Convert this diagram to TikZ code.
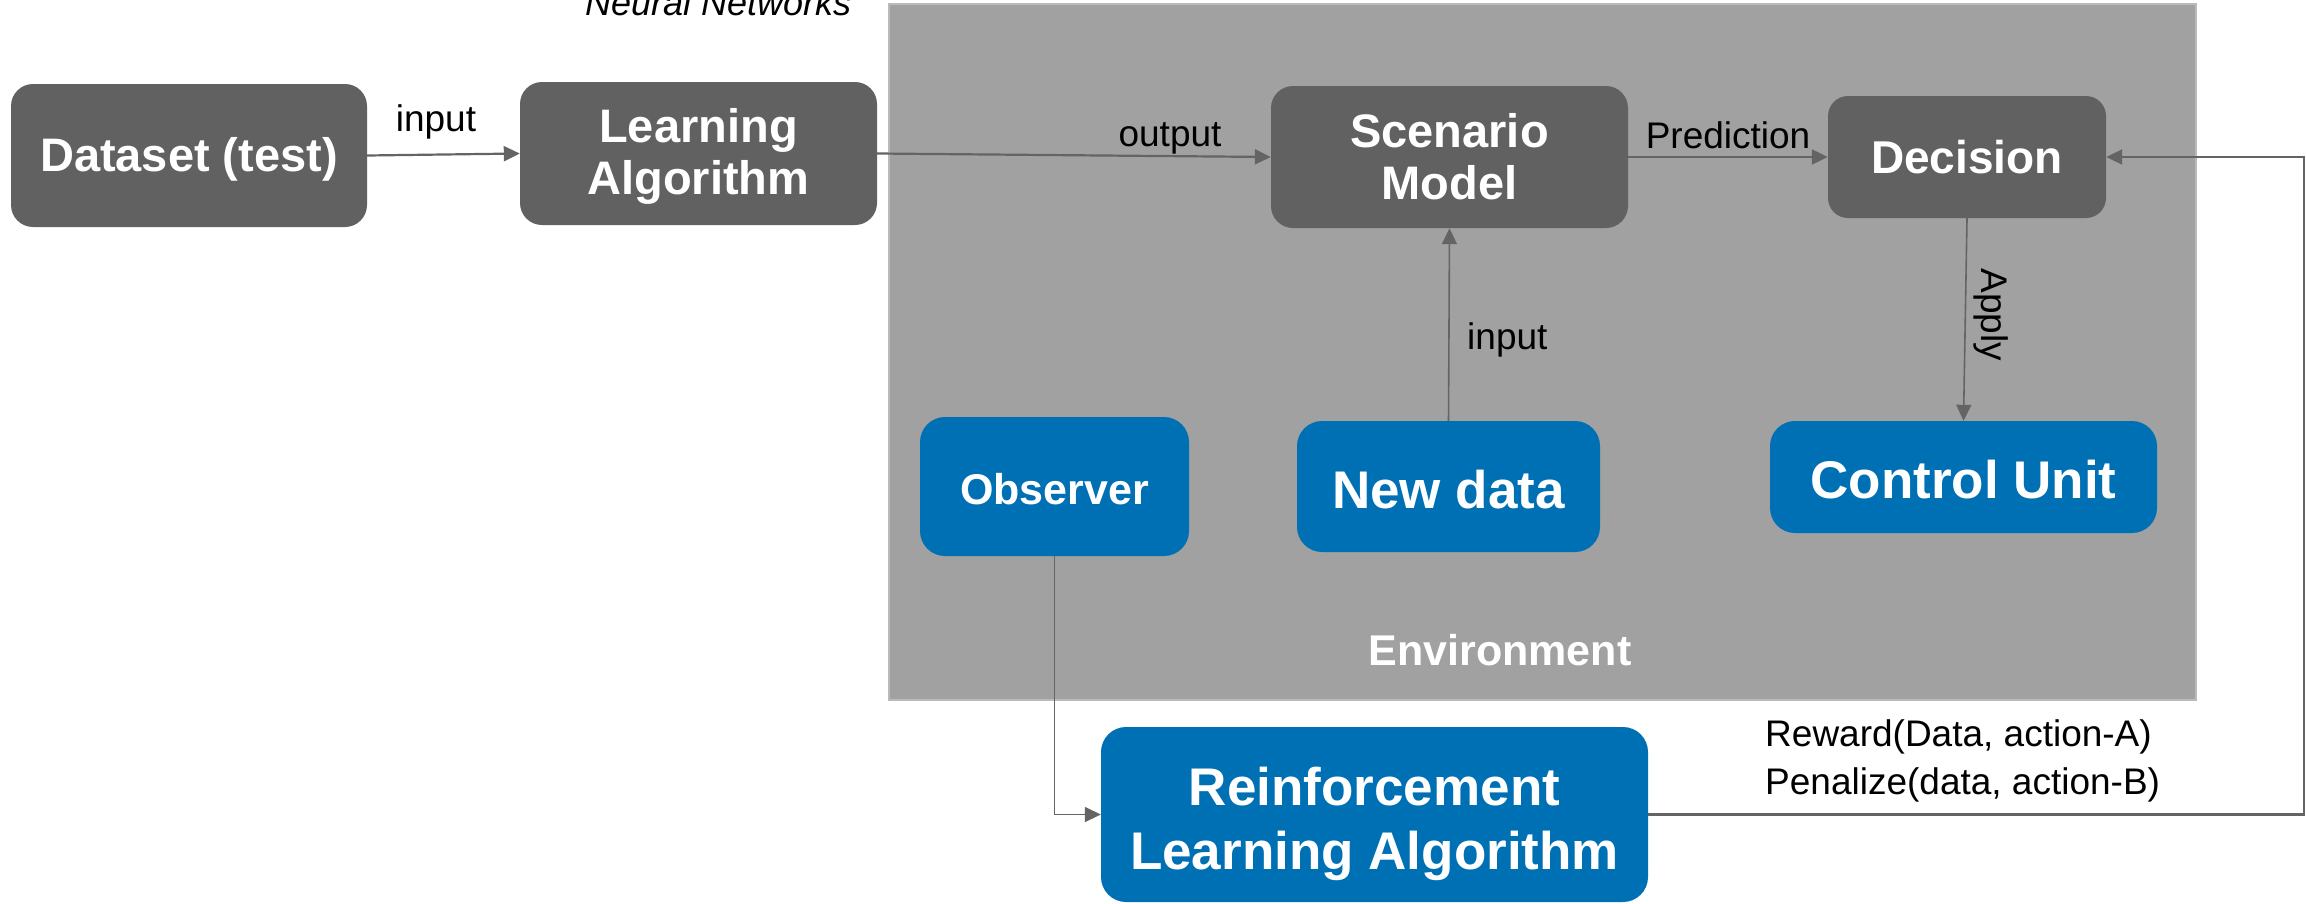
\documentclass[tikz,border=0pt]{standalone}
\usepackage{fontspec}
\setmainfont{Liberation Sans}
\usetikzlibrary{arrows.meta}
\definecolor{boxgray}{HTML}{616161}
\definecolor{envgray}{HTML}{A1A1A1}
\definecolor{envedge}{HTML}{BABABA}
\definecolor{boxblue}{HTML}{0070B5}
\definecolor{arrowgray}{HTML}{646464}
\tikzset{
  graybox/.style={fill=boxgray, draw=none, rounded corners=22pt, inner sep=0pt},
  bluebox/.style={fill=boxblue, draw=none, rounded corners=25pt, inner sep=0pt},
  graytxt/.style={text=white, font=\fontsize{47}{52}\selectfont\bfseries, align=center, inner sep=0pt},
  bluetxt/.style={text=white, font=\fontsize{53}{60}\selectfont\bfseries, align=center, inner sep=0pt},
  envbox/.style={fill=envgray, draw=envedge, line width=2pt, inner sep=0pt},
  envlabel/.style={text=white, font=\fontsize{43}{48}\selectfont\bfseries, inner sep=0pt},
  lbl/.style={text=black, font=\fontsize{37}{42}\selectfont, inner sep=0pt},
  arr/.style={draw=arrowgray, line width=2.2pt, -{Triangle[length=16pt,width=15pt]}},
  thinline/.style={line width=1.6pt}
}
\begin{document}
\begin{tikzpicture}[x=1pt,y=-1pt]
\useasboundingbox (0,0) rectangle (2306,903);

\node[envbox, minimum width=1307pt, minimum height=696pt] (env) at (1542.5,352) {};
\node[envlabel] (envlbl) at (1500,650) {Environment};

\node[lbl, anchor=base west, font=\fontsize{36}{40}\selectfont\itshape] (nn) at (585,15) {Neural Networks};

\node[graybox, minimum width=356pt, minimum height=143pt] (ds) at (189,155.5) {};
\node[graytxt] (dstxt) at ([yshift=-4pt]ds.center) {Dataset (test)};
\node[graybox, minimum width=357pt, minimum height=143pt] (la) at (698.5,153.5) {};
\node[graytxt] (latxt) at ([yshift=-3pt]la.center) {Learning\\Algorithm};
\node[graybox, minimum width=357pt, minimum height=142pt] (sm) at (1449.5,157) {};
\node[graytxt] (smtxt) at (sm.center) {Scenario\\Model};
\node[graybox, minimum width=278pt, minimum height=122pt, rounded corners=20pt] (dec) at (1967,157) {};
\node[graytxt, font=\fontsize{46}{52}\selectfont\bfseries] (dectxt) at (dec.center) {Decision};

\node[bluebox, minimum width=269pt, minimum height=139pt] (obs) at (1054.5,486.5) {};
\node[bluetxt, font=\fontsize{43}{50}\selectfont\bfseries] (obstxt) at ([yshift=-3pt]obs.center) {Observer};
\node[bluebox, minimum width=303pt, minimum height=131pt] (nd) at (1448.5,486.5) {};
\node[bluetxt] (ndtxt) at ([yshift=-3pt]nd.center) {New data};
\node[bluebox, minimum width=387pt, minimum height=112pt] (cu) at (1963.5,477) {};
\node[bluetxt] (cutxt) at ([yshift=-3pt]cu.center) {Control Unit};
\node[bluebox, minimum width=547pt, minimum height=175pt] (rl) at (1374.5,814.5) {};
\node[bluetxt, font=\fontsize{53}{64}\selectfont\bfseries] (rltxt) at ([yshift=-9pt]rl.center) {Reinforcement\\Learning Algorithm};

\node[lbl, anchor=base] (in1) at (436,131) {input};
\node[lbl, anchor=base] (outl) at (1170,146) {output};
\node[lbl, anchor=base] (pred) at (1728,148) {Prediction};
\node[lbl, anchor=base west] (in2) at (1467,349) {input};
\node[lbl, rotate=-90] (apl) at (1991,315) {Apply};
\node[lbl, anchor=base west] (rw) at (1765,746) {Reward(Data, action-A)};
\node[lbl, anchor=base west] (pn) at (1765,794) {Penalize(data, action-B)};

\draw[arr] (ds.east) -- (la.west);
\draw[arr] (la.east) -- (sm.west);
\draw[arr] (sm.east) -- (dec.west);
\draw[arr, thinline] (nd.north) -- (sm.south);
\draw[arr, thinline] (dec.south) -- (cu.north);
\draw[arr, thinline] (obs.south) |- (rl.west);
\coordinate (fb) at (2304,815);
\draw[arr] (rl.east) -- (rl.east -| fb) |- (dec.east);
\end{tikzpicture}
\end{document}
